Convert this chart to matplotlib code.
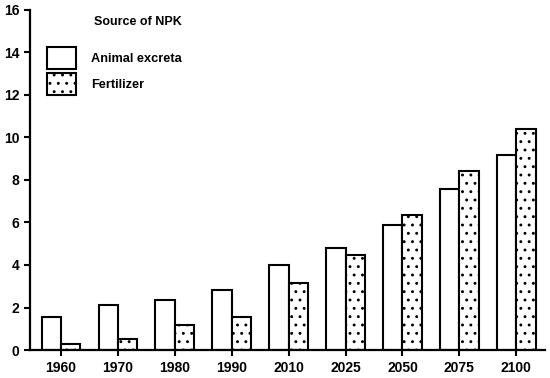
import numpy as np
import matplotlib
matplotlib.use('Agg')
import matplotlib.pyplot as plt

# Datos
years = ['1960', '1970', '1980', '1990', '2010', '2025', '2050', '2075', '2100']
animal = [1.55, 2.13, 2.34, 2.8, 3.98, 4.8, 5.88, 7.57, 9.16]
fertilizer = [0.3, 0.54, 1.18, 1.56, 3.13, 4.45, 6.35, 8.4, 10.39]

plt.rcParams['font.family'] = ['Liberation Sans', 'DejaVu Sans']
plt.rcParams['hatch.linewidth'] = 0.9

fig = plt.figure(figsize=(5.5, 3.78), dpi=100)
ax = fig.add_axes([0.0545, 0.074, 0.937, 0.9])

x = np.arange(len(years))
w = 0.34
ax.bar(x - w / 2, animal, w, color='white', edgecolor='black', linewidth=1.5, label='Animal excreta')
ax.bar(x + w / 2, fertilizer, w, color='white', edgecolor='black', linewidth=1.5,
       hatch='..', label='Fertilizer')

ax.set_xlim(-0.545, 8.51)
ax.set_ylim(0, 16)
ax.set_yticks(range(0, 17, 2))
ax.set_xticks(x)
ax.set_xticklabels(years)

for s in ['top', 'right']:
    ax.spines[s].set_visible(False)
for s in ['left', 'bottom']:
    ax.spines[s].set_linewidth(1.6)
ax.tick_params(width=1.5, length=4, labelsize=10)
ax.tick_params(axis='x', pad=4)
for t in ax.get_xticklabels() + ax.get_yticklabels():
    t.set_fontweight('bold')

# Leyenda
ax.text(0.125, 0.965, 'Source of NPK', transform=ax.transAxes, fontsize=9,
        fontweight='bold', va='center', ha='left')
ax.legend(loc='upper left', bbox_to_anchor=(0.01, 0.925), frameon=False,
          handlelength=2.3, handleheight=2.3, labelspacing=0.3, handletextpad=1.2,
          prop={'size': 9.2, 'weight': 'bold'})

fig.savefig('out.png', dpi=100)
